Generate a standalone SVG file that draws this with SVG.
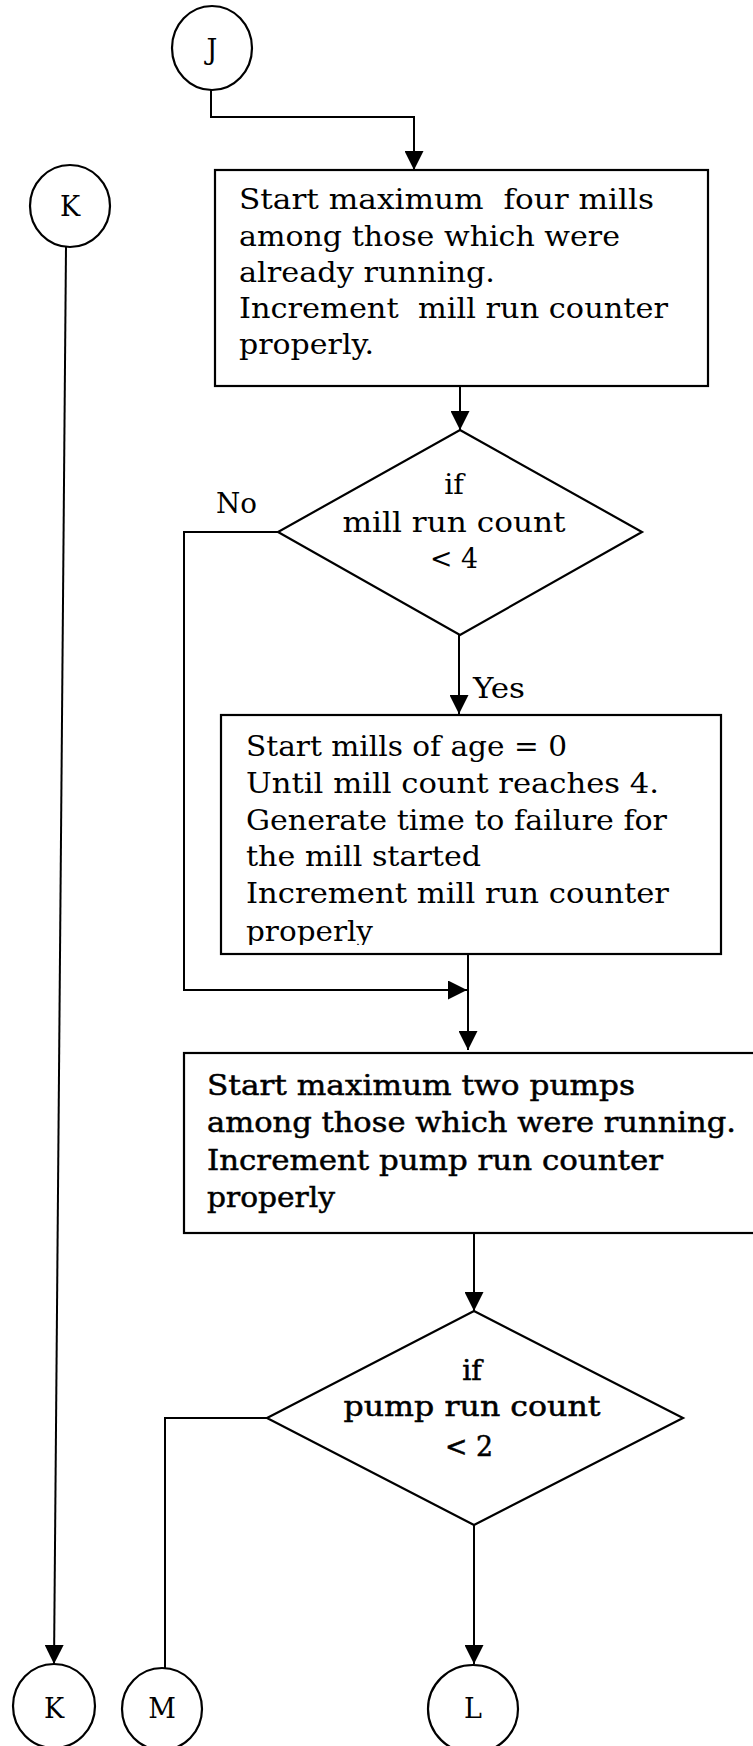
<svg xmlns="http://www.w3.org/2000/svg" width="753" height="1746" viewBox="0 0 753 1746">
<style>
.bg{fill:#fff}
.shape{fill:#fff;stroke:#000;stroke-width:2.2}
.conn{fill:none;stroke:#000;stroke-width:2}
.t{font-family:"DejaVu Serif","Liberation Serif",serif;font-size:28.5px;fill:#000}
.m{text-anchor:middle}
.b{stroke:#000;stroke-width:0.5}
</style>
<defs>
<marker id="ah" viewBox="0 0 20 20" refX="20" refY="10" markerWidth="19" markerHeight="19" markerUnits="userSpaceOnUse" orient="auto">
<path d="M0,0 L20,10 L0,20 Z" fill="#000"/>
</marker>
<clipPath id="clip2"><rect x="221" y="715" width="500" height="230"/></clipPath>
</defs>
<rect class="bg" x="0" y="0" width="753" height="1746"/>

<g id="connectors">
<path class="conn" d="M211,90 V117 H414 V170" marker-end="url(#ah)"/>
<path class="conn" d="M460,386 V430" marker-end="url(#ah)"/>
<path class="conn" d="M459,635 V714" marker-end="url(#ah)"/>
<path class="conn" d="M278,532 H184 V990 H467" marker-end="url(#ah)"/>
<path class="conn" d="M468,954 V1050" marker-end="url(#ah)"/>
<path class="conn" d="M474,1233 V1311" marker-end="url(#ah)"/>
<path class="conn" d="M474,1525 V1664" marker-end="url(#ah)"/>
<path class="conn" d="M267,1418 H165 V1668"/>
<path class="conn" d="M66,247 L54,1664" marker-end="url(#ah)"/>
</g>

<g id="J">
<ellipse class="shape" cx="212" cy="48" rx="40" ry="42"/>
<text class="t m" x="212" y="59" style="font-size:27px">J</text>
</g>
<g id="K-top">
<ellipse class="shape" cx="70" cy="206" rx="40" ry="41"/>
<text class="t m" x="70" y="216" style="font-size:27px">K</text>
</g>

<g id="box1">
<rect class="shape" x="215" y="170" width="493" height="216"/>
<text class="t" x="239" y="209" xml:space="preserve" textLength="415" lengthAdjust="spacingAndGlyphs">Start maximum  four mills</text>
<text class="t" x="239" y="245.5" textLength="381" lengthAdjust="spacingAndGlyphs">among those which were</text>
<text class="t" x="239" y="282" textLength="256" lengthAdjust="spacingAndGlyphs">already running.</text>
<text class="t" x="239" y="318" xml:space="preserve" textLength="429" lengthAdjust="spacingAndGlyphs">Increment  mill run counter</text>
<text class="t" x="239" y="354" textLength="135" lengthAdjust="spacingAndGlyphs">properly.</text>
</g>

<g id="decision1">
<polygon class="shape" points="460,430 642,532 460,635 278,532"/>
<text class="t m" x="454" y="494">if</text>
<text class="t m" x="454" y="532" textLength="223" lengthAdjust="spacingAndGlyphs">mill run count</text>
<text class="t m" x="454" y="568" textLength="48" lengthAdjust="spacingAndGlyphs">&lt; 4</text>
</g>
<text id="label-no" class="t" x="216" y="513" textLength="41" lengthAdjust="spacingAndGlyphs">No</text>
<text id="label-yes" class="t" x="473" y="698" textLength="52" lengthAdjust="spacingAndGlyphs">Yes</text>

<g id="box2">
<rect class="shape" x="221" y="715" width="500" height="239"/>
<g clip-path="url(#clip2)">
<text class="t" x="246" y="756" textLength="321" lengthAdjust="spacingAndGlyphs">Start mills of age = 0</text>
<text class="t" x="246" y="793" textLength="413" lengthAdjust="spacingAndGlyphs">Until mill count reaches 4.</text>
<text class="t" x="246" y="829.5" textLength="421" lengthAdjust="spacingAndGlyphs">Generate time to failure for</text>
<text class="t" x="246" y="866" textLength="235" lengthAdjust="spacingAndGlyphs">the mill started</text>
<text class="t" x="246" y="903" textLength="423" lengthAdjust="spacingAndGlyphs">Increment mill run counter</text>
<text class="t" x="246" y="941" textLength="127" lengthAdjust="spacingAndGlyphs">properly</text>
</g>
</g>

<g id="box3">
<rect class="shape" x="184" y="1053" width="620" height="180"/>
<text class="t b" x="207" y="1095" textLength="428" lengthAdjust="spacingAndGlyphs">Start maximum two pumps</text>
<text class="t b" x="207" y="1132" textLength="529" lengthAdjust="spacingAndGlyphs">among those which were running.</text>
<text class="t b" x="207" y="1170" textLength="456" lengthAdjust="spacingAndGlyphs">Increment pump run counter</text>
<text class="t b" x="207" y="1207" textLength="128" lengthAdjust="spacingAndGlyphs">properly</text>
</g>

<g id="decision2">
<polygon class="shape" points="474,1311 683,1418 474,1525 267,1418"/>
<text class="t m b" x="472" y="1380">if</text>
<text class="t m b" x="472" y="1416" textLength="257" lengthAdjust="spacingAndGlyphs">pump run count</text>
<text class="t m b" x="469" y="1456" textLength="48" lengthAdjust="spacingAndGlyphs">&lt; 2</text>
</g>

<g id="K-bottom">
<ellipse class="shape" cx="54" cy="1706" rx="41" ry="42"/>
<text class="t m" x="54" y="1718" style="font-size:27px">K</text>
</g>
<g id="M">
<ellipse class="shape" cx="162" cy="1709" rx="40" ry="41"/>
<text class="t m" x="162" y="1718" style="font-size:27px">M</text>
</g>
<g id="L">
<ellipse class="shape" cx="473" cy="1709" rx="45" ry="44"/>
<text class="t m" x="473" y="1718" style="font-size:27px">L</text>
</g>
</svg>
